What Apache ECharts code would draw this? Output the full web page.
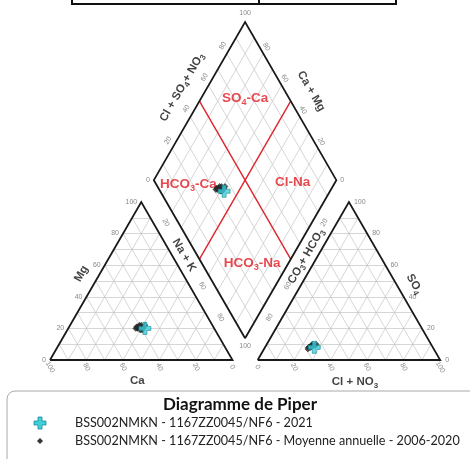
<!DOCTYPE html>
<html><head><meta charset="utf-8">
<script src="https://cdn.jsdelivr.net/npm/echarts@6/dist/echarts.min.js"></script>
<style>html,body{margin:0;padding:0;background:#fff}#c{width:470px;height:459px}</style>
</head><body><div id="c"></div><script>
// ---------------- data ----------------
const triTicks = [0, 20, 40, 60, 80, 100];
const sideTicks = [20, 60, 80];
const diamondTicks = [20, 40, 60, 80];
const name2021 = 'BSS002NMKN - 1167ZZ0045/NF6 - 2021';
const nameAvg = 'BSS002NMKN - 1167ZZ0045/NF6 - Moyenne annuelle - 2006-2020';
const legendTitle = 'Diagramme de Piper';
// 2021 sample (% meq)
const s2021Ca = [38];
const s2021Mg = [20];
const s2021HCO3 = [65];
const s2021SO4 = [8];
// annual means 2006-2020 (% meq)
const avgCa   = [40, 42, 39, 41, 38, 43, 40, 37, 41, 39, 42, 40];
const avgMg   = [21, 20, 22, 19, 21, 20, 19, 22, 21, 20, 21, 22];
const avgHCO3 = [66, 68, 65, 67, 64, 69, 66, 63, 67, 65, 68, 66];
const avgSO4  = [9, 8, 10, 8, 9, 7, 9, 10, 8, 9, 8, 9];

// ---------------- geometry ----------------
const K = 1.825;             // px per unit
const S = 100, G = 13.8, H = S * Math.sqrt(3) / 2;
const X0 = 50, Y0 = 360;
const W = 2 * S + G, HT = G * Math.sqrt(3) / 2 + 2 * H;
function L(ca, mg, nak) { return [S * (nak + mg / 2) / 100, H * mg / 100]; }
function R(hco3, so4, cl) { return [S + G + S * (cl + so4 / 2) / 100, H * so4 / 100]; }
const DB = [S + G / 2, G * Math.sqrt(3) / 2];
function D(a, c) { return [DB[0] + (a - c) * S / 200, DB[1] + (a + c) * H / 100]; }
function off(p, dx, dy) { return [p[0] + dx / K, p[1] - dy / K]; }
function mid(p, q) { return [(p[0] + q[0]) / 2, (p[1] + q[1]) / 2]; }

// grid segments
const gridSegs = [], redSegs = [];
for (let i = 1; i <= 9; i++) {
  const f = i * 10;
  gridSegs.push([L(100 - f, f, 0), L(0, f, 100 - f)]);
  gridSegs.push([L(f, 100 - f, 0), L(f, 0, 100 - f)]);
  gridSegs.push([L(100 - f, 0, f), L(0, 100 - f, f)]);
  gridSegs.push([R(100 - f, f, 0), R(0, f, 100 - f)]);
  gridSegs.push([R(f, 100 - f, 0), R(f, 0, 100 - f)]);
  gridSegs.push([R(100 - f, 0, f), R(0, 100 - f, f)]);
  gridSegs.push([D(f, 0), D(f, 100)]);
  gridSegs.push([D(0, f), D(100, f)]);
}
redSegs.push([D(50, 0), D(50, 100)]);
redSegs.push([D(0, 50), D(100, 50)]);
const outlines = [
  [L(100, 0, 0), L(0, 0, 100), L(0, 100, 0), L(100, 0, 0)],
  [R(100, 0, 0), R(0, 0, 100), R(0, 100, 0), R(100, 0, 0)],
  [D(0, 0), D(100, 0), D(100, 100), D(0, 100), D(0, 0)]
];

// tick labels
const tickFont = { fontSize: 7, color: '#6a6a6a', fontFamily: 'Liberation Sans' };
const ticks = [];
function tk(name, p, opt) { ticks.push({ name: String(name), value: p, label: Object.assign({}, tickFont, opt || {}) }); }
triTicks.forEach(v => {
  tk(v, off(L(100 - v, v, 0), -4, 0), { align: 'right' });
  tk(v, off(L(v, 0, 100 - v), 0, 7), { rotate: -60 });
  tk(v, off(R(0, v, 100 - v), 5, 0), { align: 'left' });
  tk(v, off(R(100 - v, 0, v), 0, 7), { rotate: -60 });
});
sideTicks.forEach(v => {
  tk(v, mid(L(0, 100 - v, v), D(0, 100 - v)), { rotate: -60 });
  tk(v, mid(R(v, 100 - v, 0), D(100 - v, 0)), { rotate: 60 });
});
diamondTicks.forEach(v => {
  tk(v, off(D(v, 100), -4, -8), { rotate: 60 });
  tk(v, off(D(100, v), 3, -7), { rotate: -60 });
});
tk(100, off(D(100, 100), 0, -9));
tk(100, off(D(0, 0), 0, 8));
tk(0, off(D(0, 100), -4, 0), { align: 'right' });
tk(0, off(D(100, 0), 4, 0), { align: 'left' });

// axis titles ({s|..} = subscript)
const titleFont = { fontSize: 11.5, fontWeight: 'bold', color: '#111', fontFamily: 'Liberation Sans', lineHeight: 15,
  rich: { s: { fontSize: 8, fontWeight: 'bold', color: '#111', fontFamily: 'Liberation Sans', lineHeight: 8, verticalAlign: 'bottom' } } };
const titles = [];
function tt(name, p, rot) { titles.push({ name: name, value: p, label: Object.assign({}, titleFont, { rotate: rot }) }); }
tt('Cl + SO{s|4}+ NO{s|3}', off(D(55, 100), -22, -6), 60);
tt('Ca + Mg', off(D(100, 55), 25, -2), -60);
tt('Na + K', off(mid(L(0, 60, 40), D(0, 60)), 0, 1), -60);
tt('CO{s|3}+ HCO{s|3}', off(mid(R(40, 60, 0), D(60, 0)), 0, 2), 60);
tt('Mg', off(L(48, 52, 0), -16, -4), 60);
tt('Ca', off(L(50, 0, 50), -4, 21), 0);
tt('SO{s|4}', off(R(0, 48, 52), 18, 0), -60);
tt('Cl + NO{s|3}', off(R(50, 0, 50), 6, 22), 0);

// facies labels
const redFont = { fontSize: 13.5, fontWeight: 'bold', color: '#e21b23', fontFamily: 'Liberation Sans', lineHeight: 17,
  rich: { s: { fontSize: 9, fontWeight: 'bold', color: '#e21b23', fontFamily: 'Liberation Sans', lineHeight: 9, verticalAlign: 'bottom' } } };
const facies = [
  { name: 'SO{s|4}-Ca', value: off(D(75, 75), 0, -3) },
  { name: 'HCO{s|3}-Ca', value: off(D(25, 75), -11, 4) },
  { name: 'Cl-Na', value: off(D(75, 25), 2, 2) },
  { name: 'HCO{s|3}-Na', value: off(D(25, 25), 7, 4) }
];

// data points
function project(ca, mg, hco3, so4) {
  const pts = [];
  ca.forEach((c, i) => {
    const m = mg[i], h = hco3[i], s = so4[i];
    pts.push(L(c, m, 100 - c - m));
    pts.push(R(h, s, 100 - h - s));
    pts.push(D(100 - h, c + m));
  });
  return pts;
}
const ptsAvg = project(avgCa, avgMg, avgHCO3, avgSO4);
const pts2021 = project(s2021Ca, s2021Mg, s2021HCO3, s2021SO4);
const crossPath = 'path://M4,0H8V4H12V8H8V12H4V8H0V4H4Z';
function crossPts(cx, cy, r, a) {
  return [[cx - a, cy - r], [cx + a, cy - r], [cx + a, cy - a], [cx + r, cy - a], [cx + r, cy + a], [cx + a, cy + a],
          [cx + a, cy + r], [cx - a, cy + r], [cx - a, cy + a], [cx - r, cy + a], [cx - r, cy - a], [cx - a, cy - a]];
}

const chart = echarts.init(document.getElementById('c'), null, { renderer: 'canvas' });
const lineBase = { type: 'line', symbol: 'none', silent: true, clip: false, animation: false };
chart.setOption({
  animation: false,
  grid: { left: X0, top: Y0 - HT * K, width: W * K, height: HT * K },
  xAxis: { type: 'value', min: 0, max: W, show: false },
  yAxis: { type: 'value', min: 0, max: HT, show: false },
  series: [
    { type: 'lines', coordinateSystem: 'cartesian2d', silent: true, clip: false, z: 1,
      lineStyle: { color: '#c4c4c4', width: 0.7, opacity: 1 }, data: gridSegs.map(s => ({ coords: s })) },
    { type: 'lines', coordinateSystem: 'cartesian2d', silent: true, clip: false, z: 2,
      lineStyle: { color: '#e0262d', width: 1.4, opacity: 1 }, data: redSegs.map(s => ({ coords: s })) },
    ...outlines.map(o => Object.assign({}, lineBase, { z: 3, data: o,
      lineStyle: { color: '#1a1a1a', width: 1.8, join: 'miter' } })),
    { type: 'scatter', silent: true, clip: false, z: 4, symbolSize: 0, data: ticks,
      label: { show: true, position: 'inside', formatter: '{b}' } },
    { type: 'scatter', silent: true, clip: false, z: 4, symbolSize: 0, data: titles,
      label: { show: true, position: 'inside', formatter: p => p.name } },
    { type: 'scatter', silent: true, clip: false, z: 4, symbolSize: 0, data: facies,
      label: Object.assign({ show: true, position: 'inside', formatter: p => p.name }, redFont) },
    { name: nameAvg, type: 'scatter', silent: true, clip: false, z: 6, symbol: 'diamond', symbolSize: 6,
      itemStyle: { color: '#2b2b2b', borderColor: '#111', borderWidth: 0.5 }, data: ptsAvg },
    { name: name2021, type: 'scatter', silent: true, clip: false, z: 7, symbol: crossPath, symbolSize: 12,
      itemStyle: { color: '#3fd0dc', borderColor: '#168a96', borderWidth: 0.8 }, data: pts2021 }
  ],
  graphic: [
    { type: 'polyline', shape: { points: [[72, 0], [72, 4], [396, 4], [396, 0]] }, style: { stroke: '#111', lineWidth: 2, fill: null } },
    { type: 'line', shape: { x1: 259, y1: 0, x2: 259, y2: 4 }, style: { stroke: '#111', lineWidth: 2 } },
    { type: 'rect', shape: { x: 7, y: 391, width: 480, height: 90, r: 8 }, style: { fill: '#fff', stroke: '#a8a8a8', lineWidth: 1 }, z: 0 },
    { type: 'text', x: 240, y: 405, style: { text: legendTitle, font: 'bold 17px Lato', fill: '#111', align: 'center', verticalAlign: 'middle' } },
    { type: 'polygon', shape: { points: crossPts(40, 423, 6, 2) }, style: { fill: '#3fd0dc', stroke: '#168a96', lineWidth: 0.8 } },
    { type: 'text', x: 75, y: 423, style: { text: name2021, font: '12.6px Lato', fill: '#222', verticalAlign: 'middle' } },
    { type: 'polygon', shape: { points: [[40, 438], [43, 441], [40, 444], [37, 441]] }, style: { fill: '#333' } },
    { type: 'text', x: 75, y: 441, style: { text: nameAvg, font: '12.6px Lato', fill: '#222', verticalAlign: 'middle' } }
  ]
});
</script></body></html>
